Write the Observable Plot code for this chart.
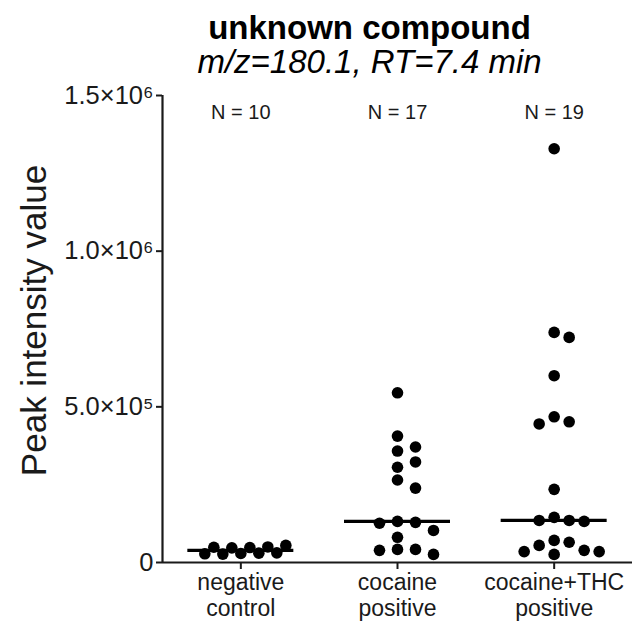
<!DOCTYPE html>
<html><head><meta charset="utf-8">
<script src="https://cdn.jsdelivr.net/npm/d3@7"></script>
<script src="https://cdn.jsdelivr.net/npm/@observablehq/plot@0.6"></script>
<style>body{margin:0;background:#fff}</style>
</head><body><div id="chart"></div>
<script>
const title = "unknown compound";
const subtitle = "m/z=180.1, RT=7.4 min";
const yLabel = "Peak intensity value";
const groups = ["negative\ncontrol", "cocaine\npositive", "cocaine+THC\npositive"];
const negativeControl = [29000, 48000, 47000, 30000, 27000, 50000, 49000, 31000, 28000, 55000];
const cocainePositive = [545000, 406000, 371000, 358000, 323000, 306000, 265000, 239000, 132000, 129000, 126000, 103000, 81000, 42000, 42000, 39000, 26000];
const cocaineThcPositive = [1329000, 739000, 723000, 600000, 468000, 452000, 445000, 235000, 145000, 135000, 135000, 132000, 71000, 65000, 55000, 39000, 35000, 35000, 26000];
const yTicks = [0, 500000, 1000000, 1500000];
const yTickLabels = ["0", "5.0×10⁵", "1.0×10⁶", "1.5×10⁶"];

const series = [negativeControl, cocainePositive, cocaineThcPositive];

const W = 635, H = 622, mL = 162, mR = 3, mT = 95, mB = 60;
const yMax = 1500000;
const pxPerY = (H - mT - mB) / yMax;
const pxPerCat = (W - mL - mR) / groups.length;
const R = 5.8, D = 2 * R, STEP = 9, HALF = 45, MEDIAN_HALF = 53;

// GraphPad-like scatter layout: place each point at the nearest free slot around the centre
const points = [];
series.forEach((vals, gi) => {
  const placed = [];
  vals.forEach(v => {
    const py = v * pxPerY;
    let k = 0, off = 0;
    for (;;) {
      off = k === 0 ? 0 : (k % 2 === 1 ? 1 : -1) * Math.ceil(k / 2) * STEP;
      if (!placed.some(p => Math.abs(p.off - off) < D && Math.abs(p.py - py) < D)) break;
      k++;
    }
    placed.push({v, py, off});
  });
  const maxOff = d3.max(placed, p => Math.abs(p.off));
  const s = maxOff > HALF ? HALF / maxOff : 1;
  placed.forEach(p => points.push({group: groups[gi], value: p.v, x: gi + 0.5 + (p.off * s) / pxPerCat}));
});

const medians = series.map((vals, gi) => ({gi, median: d3.median(vals)}));
const counts = series.map((vals, gi) => ({gi, label: `N = ${vals.length}`}));

const ink = "#1a1a1a";
const chart = Plot.plot({
  width: W, height: H,
  marginLeft: mL, marginRight: mR, marginTop: mT, marginBottom: mB,
  style: {color: ink, fontFamily: "'Liberation Sans', Arial, sans-serif", background: "#fff"},
  x: {domain: [0, groups.length], axis: null},
  y: {domain: [0, yMax], axis: null},
  marks: [
    Plot.axisY({ticks: yTicks, tickFormat: d => yTickLabels[yTicks.indexOf(d)], tickSize: 6, tickPadding: 3, strokeWidth: 2, fontSize: 25.5, label: null}),
    Plot.axisX({ticks: groups.map((g, i) => i + 0.5), tickFormat: d => groups[Math.floor(d)], tickSize: 7, tickPadding: 3, strokeWidth: 2, fontSize: 23, lineHeight: 1.1, label: null}),
    Plot.ruleY([0], {stroke: ink, strokeWidth: 2.2}),
    Plot.ruleX([0], {y1: 0, y2: yMax, stroke: ink, strokeWidth: 2.2}),
    Plot.ruleY(medians, {y: "median", x1: d => d.gi + 0.5 - MEDIAN_HALF / pxPerCat, x2: d => d.gi + 0.5 + MEDIAN_HALF / pxPerCat, stroke: "#000", strokeWidth: 3.3}),
    Plot.dot(points, {x: "x", y: "value", r: R, fill: "#000", stroke: null}),
    Plot.text(counts, {x: d => d.gi + 0.5, text: "label", frameAnchor: "top", dy: 23, lineAnchor: "bottom", fontSize: 20, fill: ink}),
    Plot.text([title], {frameAnchor: "top-left", dx: 207, dy: -57, lineAnchor: "bottom", textAnchor: "middle", fontSize: 33, fontWeight: "bold", fill: "#000"}),
    Plot.text([subtitle], {frameAnchor: "top-left", dx: 207, dy: -23, lineAnchor: "bottom", textAnchor: "middle", fontSize: 33, fontStyle: "italic", fill: "#000"}),
    Plot.text([yLabel], {frameAnchor: "top-left", dx: 45 - mL, dy: 320 - mT, rotate: -90, lineAnchor: "bottom", textAnchor: "middle", fontSize: 35, fill: ink})
  ]
});
document.getElementById("chart").append(chart);
</script>
</body></html>
